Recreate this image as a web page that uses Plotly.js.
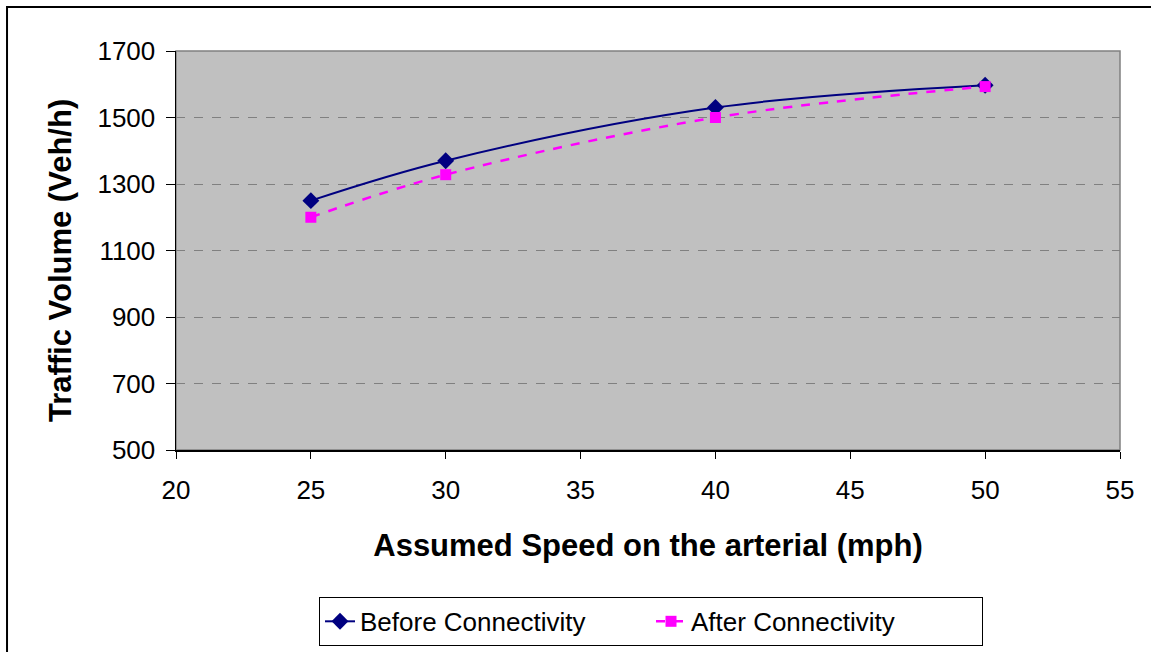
<!DOCTYPE html>
<html>
<head>
<meta charset="utf-8">
<script src="https://cdn.plot.ly/plotly-3.0.1.min.js"></script>
<style>html,body{margin:0;padding:0;background:#fff;}#chart{width:1151px;height:652px;}</style>
</head>
<body>
<div id="chart"></div>
<script>
const speeds = [25, 30, 40, 50];
const beforeVolume = [1250, 1370, 1530, 1597];
const afterVolume = [1200, 1328, 1500, 1593];
const seriesNames = ["Before Connectivity", "After Connectivity"];
const xTitle = "Assumed Speed on the arterial (mph)";
const yTitle = "Traffic Volume (Veh/h)";

const traces = [
  {
    x: speeds, y: beforeVolume, name: seriesNames[0], type: "scatter", mode: "lines+markers",
    line: {color: "#000080", width: 2, shape: "spline", smoothing: 1},
    marker: {symbol: "diamond", size: 13, color: "#000080"}
  },
  {
    x: speeds, y: afterVolume, name: seriesNames[1], type: "scatter", mode: "lines+markers",
    line: {color: "#FF00FF", width: 2.5, dash: "dash", shape: "spline", smoothing: 1},
    marker: {symbol: "square", size: 11, color: "#FF00FF"}
  }
];

const layout = {
  width: 1151, height: 652,
  margin: {l: 176, r: 31, t: 51, b: 202},
  paper_bgcolor: "#ffffff",
  plot_bgcolor: "#C0C0C0",
  font: {family: "Liberation Sans, Arial, sans-serif", color: "#000", size: 26},
  showlegend: true,
  legend: {
    orientation: "h", xref: "container", yref: "container",
    x: 0.5656, xanchor: "center", y: 0.0845, yanchor: "top",
    bordercolor: "#000", borderwidth: 1, bgcolor: "#fff",
    font: {size: 26}, entrywidth: 286, entrywidthmode: "pixels"
  },
  xaxis: {
    range: [20, 55], dtick: 5, tick0: 20, showgrid: false, zeroline: false,
    showline: true, linecolor: "#000", linewidth: 1.5,
    ticks: "outside", ticklen: 7, tickcolor: "#000",
    tickfont: {size: 26}, ticklabelstandoff: 9,
    title: {text: xTitle, font: {size: 31, family: "Liberation Sans, Arial, sans-serif", weight: "bold"}, standoff: 30},
    automargin: false
  },
  yaxis: {
    range: [500, 1700], dtick: 200, tick0: 500, zeroline: false,
    showgrid: true, gridcolor: "#808080", griddash: "dash", gridwidth: 1,
    showline: true, linecolor: "#000", linewidth: 1.5,
    ticks: "outside", ticklen: 9, tickcolor: "#000",
    tickfont: {size: 26}, ticklabelstandoff: 5,
    automargin: false
  },
  annotations: [
    {text: yTitle, xref: "paper", yref: "paper", x: -0.1229, y: 0.476, xanchor: "center", yanchor: "middle",
     textangle: -90, showarrow: false, font: {size: 31, family: "Liberation Sans, Arial, sans-serif", weight: "bold", color: "#000"}}
  ],
  shapes: [
    {type: "rect", xref: "paper", yref: "paper", x0: 0, x1: 1, y0: 0, y1: 1, line: {color: "#808080", width: 1.5}, layer: "below"},
    {type: "rect", xref: "paper", yref: "paper", x0: -0.179, x1: 1.05, y0: -0.6, y1: 1.11, line: {color: "#000", width: 2}}
  ]
};

Plotly.newPlot("chart", traces, layout, {displayModeBar: false, staticPlot: true});
</script>
</body>
</html>
